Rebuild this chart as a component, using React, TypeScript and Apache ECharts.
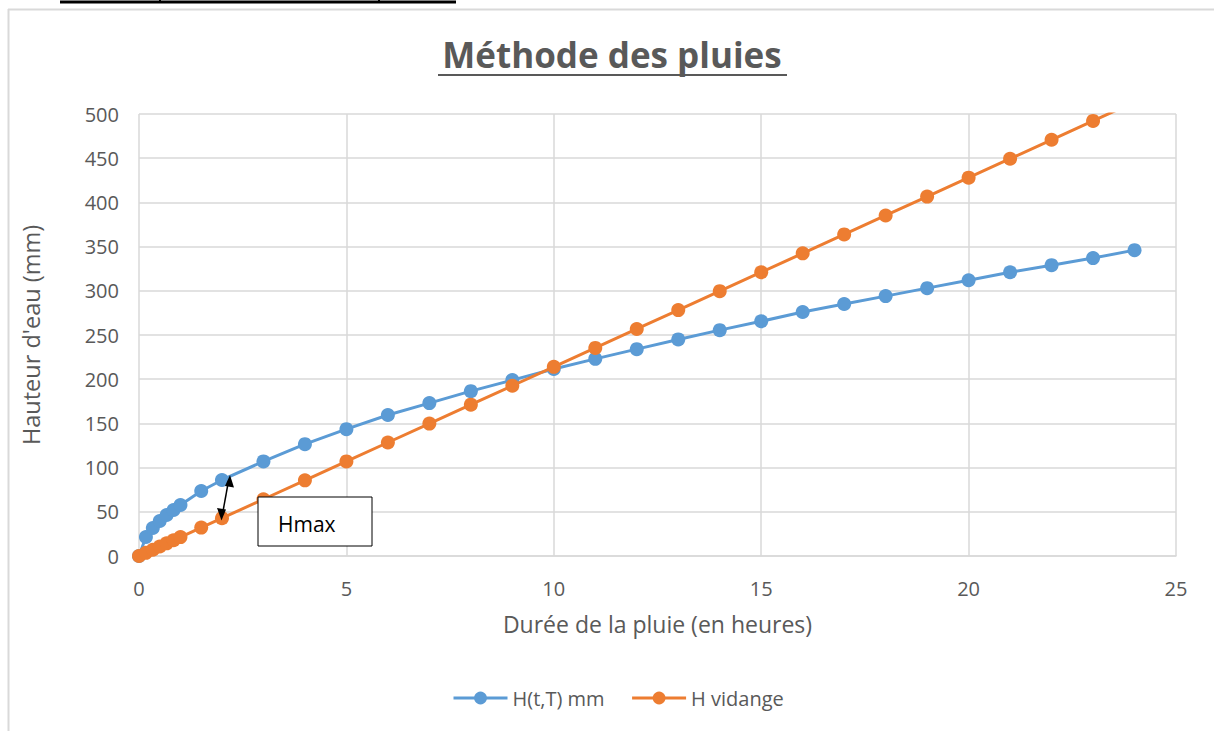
import React, { useEffect, useRef } from "react";
import * as echarts from "echarts";

const hoursBlue = [0, 1 / 6, 2 / 6, 0.5, 4 / 6, 5 / 6, 1, 1.5, 2, 3, 4, 5, 6, 7, 8, 9, 10, 11, 12, 13, 14, 15, 16, 17, 18, 19, 20, 21, 22, 23, 24];
const hBlue = [0, 21.5, 31.7, 39.6, 46.4, 52, 57.7, 73.5, 86, 107, 126.5, 143.5, 159.5, 173, 186.5, 199, 211.5, 223, 234, 245, 255.5, 265.5, 276, 285, 294, 303, 312, 321, 329, 337, 346];
const hOrange = [0, 3.6, 7.1, 10.7, 14.3, 17.8, 21.4, 32.1, 42.8, 64.2, 85.6, 107, 128.4, 149.8, 171.2, 192.6, 214, 235.4, 256.8, 278.2, 299.6, 321, 342.4, 363.8, 385.2, 406.6, 428, 449.4, 470.8, 492.2, 513.6];

const seriesNames = ["H(t,T) mm", "H vidange"];
const titleText = "Méthode des pluies";
const xName = "Durée de la pluie (en heures)";
const yName = "Hauteur d'eau (mm)";
const annotation = "Hmax";

const FONT = "'Open Sans', sans-serif";
const GREY = "#595959";

export default function App() {
  const ref = useRef<HTMLDivElement>(null);
  useEffect(() => {
    if (!ref.current) return;
    const chart = echarts.init(ref.current, null, { renderer: "svg" });
    const blue = hoursBlue.map((t, i) => [t, hBlue[i]]);
    const orange = hoursBlue.map((t, i) => [t, hOrange[i]]);
    chart.setOption({
      animation: false,
      backgroundColor: "#ffffff",
      textStyle: { fontFamily: FONT },
      grid: { left: 139, right: 38, top: 114, bottom: 175 },
      legend: {
        top: 683,
        left: 447,
        itemWidth: 54,
        itemHeight: 16,
        itemGap: 26,
        lineStyle: { width: 3 },
        textStyle: { fontFamily: FONT, fontSize: 20, color: GREY, padding: [0, 0, 0, 0] },
        data: seriesNames,
      },
      xAxis: {
        type: "value",
        min: 0,
        max: 25,
        interval: 5,
        name: xName,
        nameLocation: "middle",
        nameGap: 56,
        nameTextStyle: { fontFamily: FONT, fontSize: 23, color: GREY },
        axisLine: { show: true, lineStyle: { color: "#d9d9d9", width: 1.5 } },
        axisTick: { show: false },
        axisLabel: { fontFamily: FONT, fontSize: 20, color: GREY, margin: 22 },
        splitLine: { show: true, lineStyle: { color: "#d9d9d9", width: 1.5 } },
      },
      yAxis: {
        type: "value",
        min: 0,
        max: 500,
        interval: 50,
        name: yName,
        nameLocation: "middle",
        nameGap: 96,
        nameRotate: 90,
        nameTextStyle: { fontFamily: FONT, fontSize: 23.5, color: GREY },
        axisLine: { show: false },
        axisTick: { show: false },
        axisLabel: { fontFamily: FONT, fontSize: 20, color: GREY, margin: 20 },
        splitLine: { show: true, lineStyle: { color: "#d9d9d9", width: 1.5 } },
      },
      series: [
        {
          name: seriesNames[0],
          type: "line",
          data: blue,
          color: "#5B9BD5",
          symbol: "circle",
          symbolSize: 14,
          lineStyle: { width: 3 },
          clip: true,
          z: 3,
        },
        {
          name: seriesNames[1],
          type: "line",
          data: orange,
          color: "#ED7D31",
          symbol: "circle",
          symbolSize: 14,
          lineStyle: { width: 3 },
          clip: true,
          z: 4,
        },
      ],
      graphic: [
        { type: "line", shape: { x1: 8, y1: 9.5, x2: 1214, y2: 9.5 }, style: { stroke: "#d9d9d9", lineWidth: 2 }, z: 1 },
        { type: "line", shape: { x1: 8.5, y1: 9, x2: 8.5, y2: 731 }, style: { stroke: "#d9d9d9", lineWidth: 2 }, z: 1 },
        { type: "line", shape: { x1: 60, y1: 2, x2: 456, y2: 2 }, style: { stroke: "#000", lineWidth: 3 }, z: 10 },
        { type: "rect", shape: { x: 159, y: 0, width: 2, height: 3 }, style: { fill: "#000" }, z: 10 },
        { type: "rect", shape: { x: 378, y: 0, width: 2, height: 3 }, style: { fill: "#000" }, z: 10 },
        {
          type: "text",
          x: 612,
          y: 54,
          style: {
            text: titleText,
            fontFamily: FONT,
            fontWeight: "bold",
            fontSize: 35,
            fill: GREY,
            align: "center",
            verticalAlign: "middle",
          },
          z: 10,
        },
        { type: "line", shape: { x1: 438, y1: 75, x2: 787, y2: 75 }, style: { stroke: GREY, lineWidth: 2 }, z: 10 },
        {
          type: "rect",
          shape: { x: 258, y: 497, width: 114, height: 49 },
          style: { fill: "#fff", stroke: "#000", lineWidth: 1 },
          z: 20,
        },
        {
          type: "text",
          x: 278,
          y: 524,
          style: { text: annotation, fontFamily: FONT, fontSize: 21, fill: "#000", verticalAlign: "middle" },
          z: 21,
        },
        { type: "line", shape: { x1: 228.5, y1: 481, x2: 222.5, y2: 514 }, style: { stroke: "#000", lineWidth: 1.5 }, z: 20 },
        { type: "polygon", shape: { points: [[230, 475], [225, 486], [234, 487.5]] }, style: { fill: "#000" }, z: 20 },
        { type: "polygon", shape: { points: [[221.5, 520.5], [217, 508], [226, 509.5]] }, style: { fill: "#000" }, z: 20 },
      ],
    });
    return () => chart.dispose();
  }, []);
  return (
    <div
      ref={ref}
      style={{ position: "absolute", left: 0, top: 0, width: 1214, height: 731 }}
    />
  );
}
